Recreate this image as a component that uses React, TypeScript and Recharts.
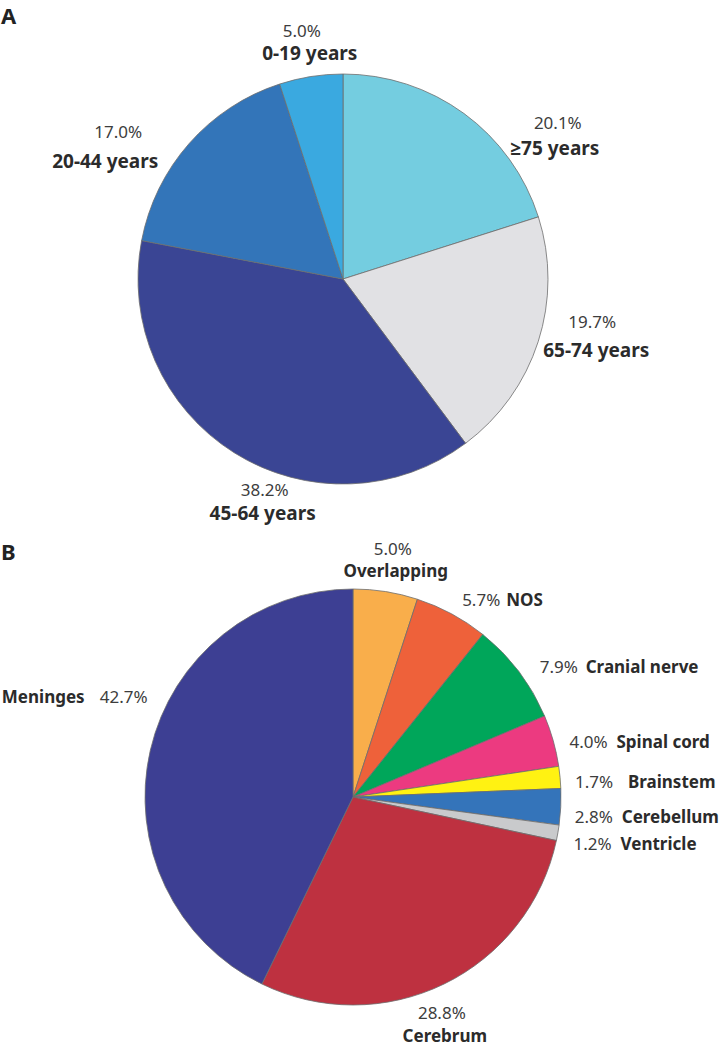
import React from 'react'
import { PieChart, Pie, Cell } from 'recharts'

// Panel A: age at diagnosis
const ageGroups = ['≥75 years', '65-74 years', '45-64 years', '20-44 years', '0-19 years']
const agePercent = [20.1, 19.7, 38.2, 17.0, 5.0]
const ageColors = ['#74cde0', '#e1e1e4', '#3a4594', '#3375b9', '#3aa9e0']

// Panel B: tumour site
const sites = ['Overlapping', 'NOS', 'Cranial nerve', 'Spinal cord', 'Brainstem', 'Cerebellum', 'Ventricle', 'Cerebrum', 'Meninges']
const sitePercent = [5.0, 5.7, 7.9, 4.0, 1.7, 2.8, 1.2, 28.8, 42.7]
const siteColors = ['#f9ae4b', '#ee613a', '#00a65a', '#ec3a80', '#fff212', '#3474ba', '#c9cacc', '#be3140', '#3d3f93']

const ageData = ageGroups.map((name, i) => ({ name, value: agePercent[i] }))
const siteData = sites.map((name, i) => ({ name, value: sitePercent[i] }))

// label nudges relative to a point 20px outside the slice middle: [dx, dy, anchor]
type Nudge = [number, number, 'start' | 'middle' | 'end']
const ageLabelPct: Nudge[] = [[82, 32, 'middle'], [35, -20, 'middle'], [41, 26, 'middle'], [-56, 8, 'middle'], [-6, -20, 'middle']]
const ageLabelName: Nudge[] = [[79, 58, 'middle'], [39, 9, 'middle'], [39, 50, 'middle'], [-69, 38, 'middle'], [2, 3, 'middle']]
const siteLabelPct: Nudge[] = [
  [4, -17, 'middle'], [1, 10, 'start'], [5, 14, 'start'], [-3, 13, 'start'], [-5, 12, 'start'],
  [-6, 15, 'start'], [-4, 14, 'start'], [-11, 17, 'middle'], [-31, -43, 'start'],
]
const siteLabelName: Nudge[] = [
  [7, 5, 'middle'], [45, 10, 'start'], [51, 14, 'start'], [44, 13, 'start'], [48, 12, 'start'],
  [41, 15, 'start'], [43, 14, 'start'], [-8, 40, 'middle'], [-129, -43, 'start'],
]

const FONT = '"Noto Sans", "Open Sans", sans-serif'
const RAD = Math.PI / 180

function makeLabel(names: string[], values: number[], pct: Nudge[], nm: Nudge[], nameSize: number) {
  return (props: any) => {
    const { cx, cy, midAngle, outerRadius, index } = props
    const r = outerRadius + 20
    const ax = cx + r * Math.cos(-midAngle * RAD)
    const ay = cy + r * Math.sin(-midAngle * RAD)
    const p = pct[index]
    const n = nm[index]
    return (
      <g key={'lbl-' + index}>
        <text x={ax + p[0]} y={ay + p[1]} textAnchor={p[2]} fontFamily={FONT} fontSize={17} fill="#3d3d3d">
          {values[index].toFixed(1)}%
        </text>
        <text x={ax + n[0]} y={ay + n[1]} textAnchor={n[2]} fontFamily={FONT} fontSize={nameSize} fontWeight={700} fill="#2b2b2b">
          {names[index]}
        </text>
      </g>
    )
  }
}

const panelLetter = (top: number): React.CSSProperties => ({
  position: 'absolute',
  left: 1,
  top,
  fontFamily: FONT,
  fontWeight: 700,
  fontSize: 22,
  color: '#222',
  lineHeight: 'normal',
})

export default function App() {
  return (
    <div style={{ position: 'absolute', left: 0, top: 0, width: 720, height: 1050, background: '#fff' }}>
      <PieChart width={720} height={1050} margin={{ top: 0, right: 0, bottom: 0, left: 0 }}>
        <Pie
          data={ageData}
          dataKey="value"
          cx={343}
          cy={279}
          outerRadius={205}
          startAngle={90}
          endAngle={-270}
          stroke="#6d6d6d"
          strokeWidth={0.8}
          labelLine={false}
          label={makeLabel(ageGroups, agePercent, ageLabelPct, ageLabelName, 19)}
          isAnimationActive={false}
        >
          {ageData.map((d, i) => <Cell key={d.name} fill={ageColors[i]} />)}
        </Pie>
        <Pie
          data={siteData}
          dataKey="value"
          cx={353}
          cy={797}
          outerRadius={208}
          startAngle={90}
          endAngle={-270}
          stroke="#6d6d6d"
          strokeWidth={0.8}
          labelLine={false}
          label={makeLabel(sites, sitePercent, siteLabelPct, siteLabelName, 17)}
          isAnimationActive={false}
        >
          {siteData.map((d, i) => <Cell key={d.name} fill={siteColors[i]} />)}
        </Pie>
      </PieChart>
      <div style={panelLetter(0)}>A</div>
      <div style={panelLetter(536)}>B</div>
    </div>
  )
}
